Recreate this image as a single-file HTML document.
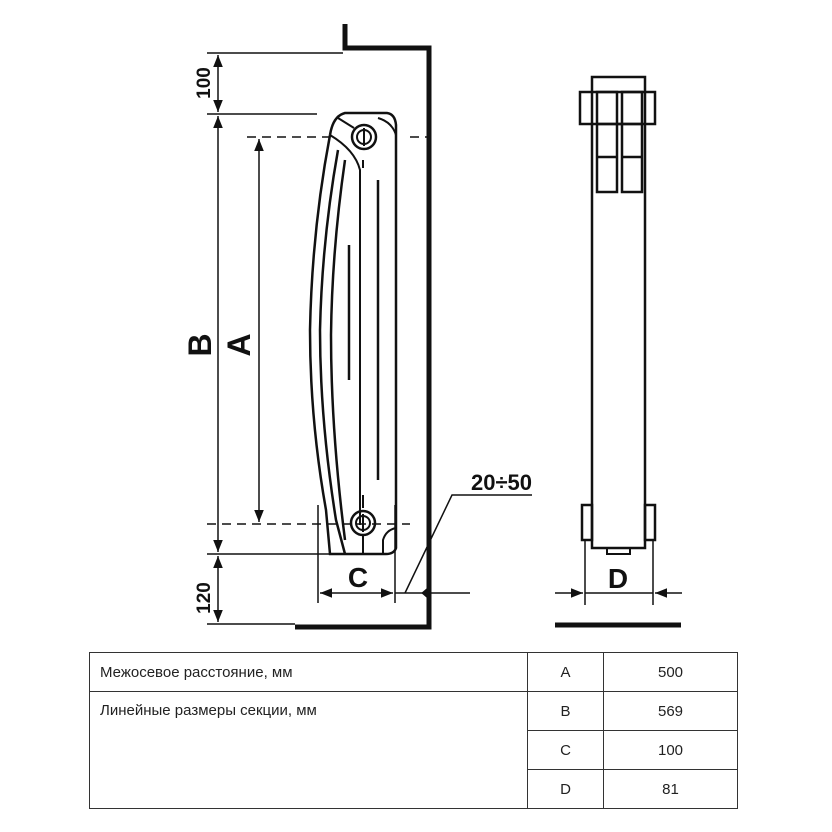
<!DOCTYPE html>
<html><head><meta charset="utf-8"><style>
body{margin:0;background:#fff;width:832px;height:832px;overflow:hidden;font-family:"Liberation Sans",sans-serif}
svg{position:absolute;left:0;top:0}
table{position:absolute;left:89px;top:652px;border-collapse:collapse;font-size:15px;color:#222}
td{border:1.5px solid #333;padding:0;height:38px}
</style></head><body>
<svg width="832" height="640" viewBox="0 0 832 640">
<defs>
<marker id="ar" viewBox="0 0 10 10" refX="10" refY="5" markerWidth="8" markerHeight="8" orient="auto-start-reverse"><path d="M0,1 L10,5 L0,9 z" fill="#111"/></marker>
</defs>
<g stroke="#111" fill="none">
<path d="M345,24 V48 H429 V627 H295" stroke-width="5"/>
<line x1="207" y1="53" x2="343" y2="53" stroke-width="1.5"/>
<line x1="207" y1="114" x2="317" y2="114" stroke-width="1.5"/>
<line x1="207" y1="554" x2="384" y2="554" stroke-width="1.5"/>
<line x1="207" y1="624" x2="295" y2="624" stroke-width="1.5"/>
<line x1="218" y1="55" x2="218" y2="112" stroke-width="1.5" marker-start="url(#ar)" marker-end="url(#ar)"/>
<line x1="218" y1="116" x2="218" y2="552" stroke-width="1.5" marker-start="url(#ar)" marker-end="url(#ar)"/>
<line x1="218" y1="556" x2="218" y2="622" stroke-width="1.5" marker-start="url(#ar)" marker-end="url(#ar)"/>
<line x1="259" y1="139" x2="259" y2="522" stroke-width="1.5" marker-start="url(#ar)" marker-end="url(#ar)"/>
<line x1="247" y1="137" x2="330" y2="137" stroke-width="1.5" stroke-dasharray="9,6"/>
<line x1="410" y1="137" x2="428" y2="137" stroke-width="1.5" stroke-dasharray="9,6"/>
<line x1="207" y1="524" x2="410" y2="524" stroke-width="1.5" stroke-dasharray="9,6"/>
<line x1="318" y1="505" x2="318" y2="603" stroke-width="1.5"/>
<line x1="395" y1="505" x2="395" y2="603" stroke-width="1.5"/>
<line x1="320" y1="593" x2="393" y2="593" stroke-width="1.5" marker-start="url(#ar)" marker-end="url(#ar)"/>
<line x1="395" y1="593" x2="470" y2="593" stroke-width="1.5"/>
<path d="M405,593 L452,495 H532" stroke-width="1.5"/>
<path d="M429,587 L422,593 L429,599 z" fill="#111"/>
<path d="M330,135 Q333,116 345,113 H387 Q395,114 396,125 V548 Q394,554 386,554 H350" stroke-width="2.5"/>
<path d="M330,135 Q312,230 310,330 Q310,420 326,510 L330,554 H350" stroke-width="2.5"/>
<path d="M338,150 Q322,240 320,330 Q320,420 336,520 L345,554" stroke-width="2.5"/>
<path d="M345,160 Q332,250 331,335 Q331,430 345,540" stroke-width="2.5"/>
<path d="M330,135 Q355,150 360,170 V525" stroke-width="2"/>
<path d="M338,118 L354,128" stroke-width="2"/>
<path d="M378,118 Q392,122 396,135" stroke-width="2"/>
<line x1="378" y1="180" x2="378" y2="480" stroke-width="2.5"/>
<line x1="349" y1="245" x2="349" y2="380" stroke-width="2.5"/>
<line x1="363" y1="160" x2="363" y2="168" stroke-width="2"/>
<line x1="363" y1="495" x2="363" y2="508" stroke-width="2"/>
<line x1="363" y1="536" x2="363" y2="554" stroke-width="2"/>
<path d="M383,554 V540 Q386,530 396,528" stroke-width="2"/>
<circle cx="364" cy="137" r="12" stroke-width="2.5"/>
<circle cx="364" cy="137" r="7" stroke-width="2"/>
<line x1="364" y1="128" x2="364" y2="146" stroke-width="2"/>
<circle cx="363" cy="523" r="12" stroke-width="2.5"/>
<circle cx="363" cy="523" r="7" stroke-width="2"/>
<line x1="363" y1="514" x2="363" y2="532" stroke-width="2"/>
<rect x="592" y="77" width="53" height="471" stroke-width="2.5"/>
<rect x="580" y="92" width="75" height="32" stroke-width="2.5"/>
<rect x="597" y="92" width="20" height="100" stroke-width="2.5"/>
<rect x="622" y="92" width="20" height="100" stroke-width="2.5"/>
<line x1="597" y1="157" x2="617" y2="157" stroke-width="2.5"/>
<line x1="622" y1="157" x2="642" y2="157" stroke-width="2.5"/>
<line x1="597" y1="124" x2="642" y2="124" stroke-width="2.5"/>
<rect x="582" y="505" width="10" height="35" stroke-width="2.5"/>
<rect x="645" y="505" width="10" height="35" stroke-width="2.5"/>
<rect x="607" y="548" width="23" height="6" stroke-width="2"/>
<line x1="585" y1="540" x2="585" y2="605" stroke-width="1.5"/>
<line x1="653" y1="540" x2="653" y2="605" stroke-width="1.5"/>
<line x1="555" y1="593" x2="583" y2="593" stroke-width="1.5" marker-end="url(#ar)"/>
<line x1="682" y1="593" x2="655" y2="593" stroke-width="1.5" marker-end="url(#ar)"/>
<line x1="585" y1="593" x2="653" y2="593" stroke-width="1.5"/>
<line x1="555" y1="625" x2="681" y2="625" stroke-width="5"/>
</g>
<g font-family="Liberation Sans, sans-serif" font-weight="bold" fill="#111">
<text x="532" y="490" font-size="22" text-anchor="end">20÷50</text>
<text x="358" y="587" font-size="28" text-anchor="middle">C</text>
<text x="618" y="588" font-size="28" text-anchor="middle">D</text>
<text transform="translate(210,83) rotate(-90)" font-size="19" text-anchor="middle">100</text>
<text transform="translate(210,598) rotate(-90)" font-size="19" text-anchor="middle">120</text>
<text transform="translate(211,345) rotate(-90)" font-size="32" text-anchor="middle">B</text>
<text transform="translate(250,345) rotate(-90)" font-size="32" text-anchor="middle">A</text>
</g>
</svg>
<table>
<tr><td style="width:427px;padding-left:10px">Межосевое расстояние, мм</td><td style="width:75px;text-align:center">A</td><td style="width:133px;text-align:center">500</td></tr>
<tr><td rowspan="3" style="vertical-align:top;padding-left:10px;padding-top:10px">Линейные размеры секции, мм</td><td style="text-align:center">B</td><td style="text-align:center">569</td></tr>
<tr><td style="text-align:center">C</td><td style="text-align:center">100</td></tr>
<tr><td style="text-align:center">D</td><td style="text-align:center">81</td></tr>
</table>
</body></html>
